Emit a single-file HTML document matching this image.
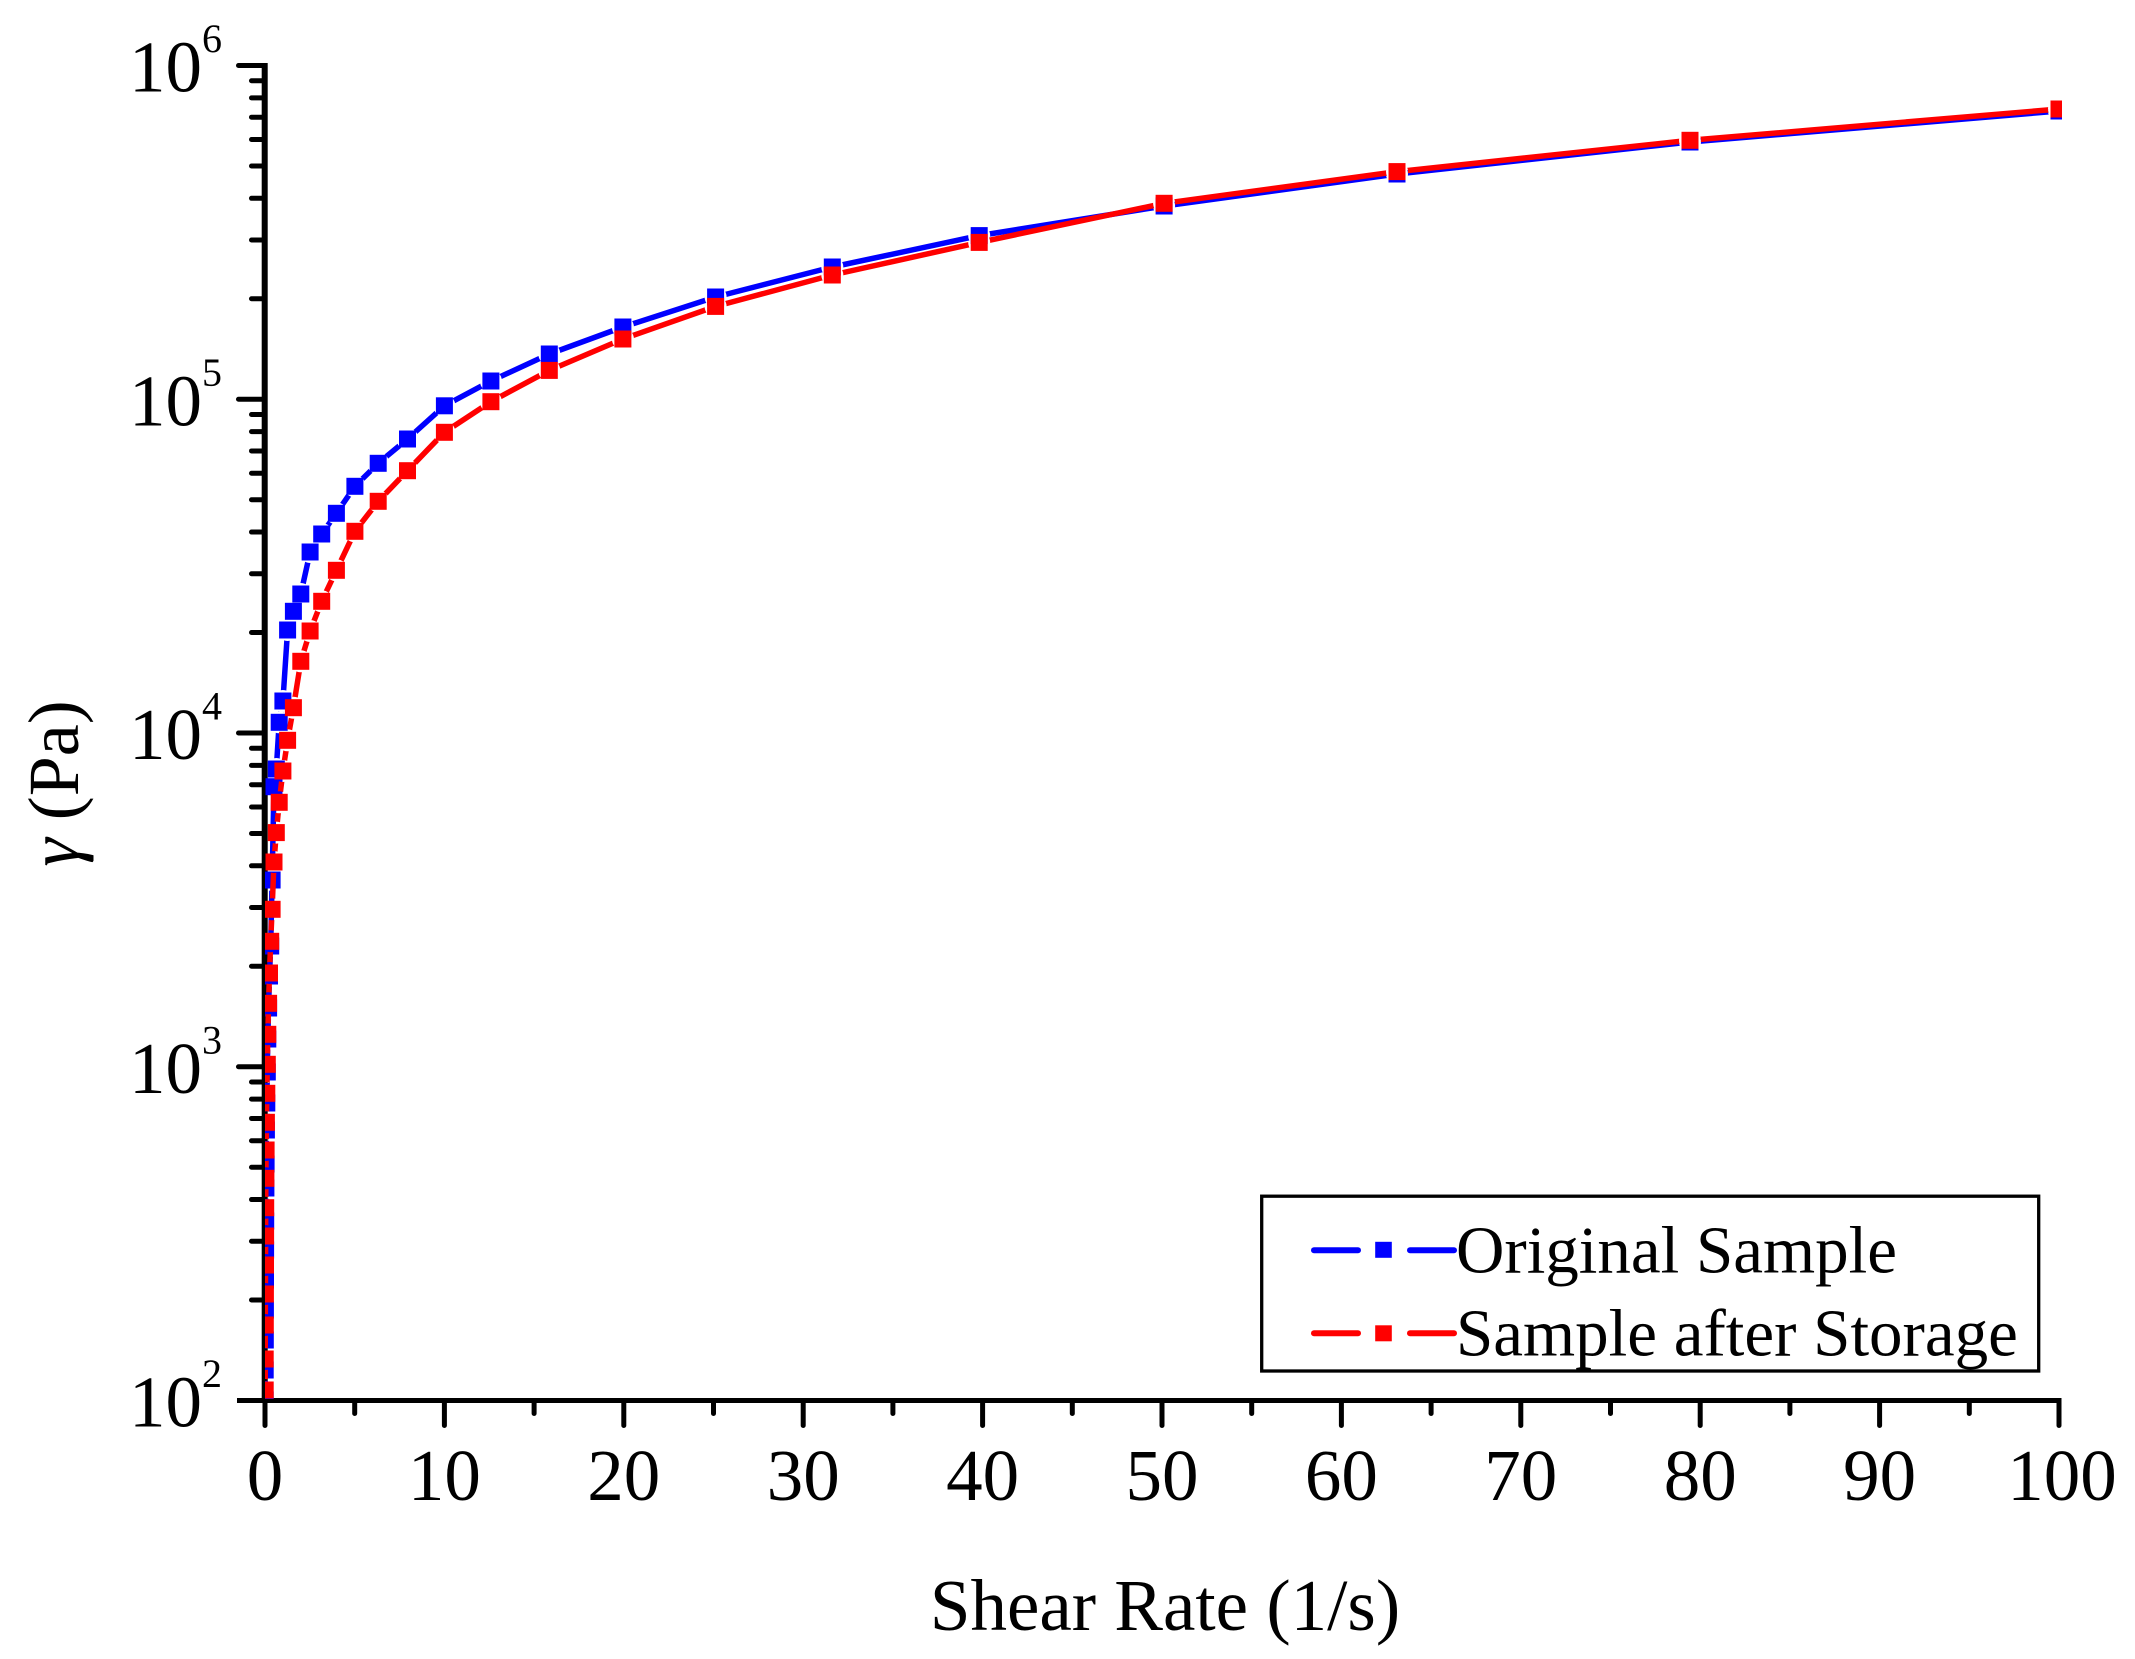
<!DOCTYPE html>
<html><head><meta charset="utf-8"><style>
html,body{margin:0;padding:0;background:#fff;}
svg{display:block;}
text{font-family:"Liberation Serif","Times New Roman",serif;fill:#000;}
</style></head><body>
<svg width="2135" height="1659" viewBox="0 0 2135 1659" xmlns="http://www.w3.org/2000/svg">
<defs>
<clipPath id="plot"><rect x="265" y="62" width="1797" height="1337"/></clipPath>
<mask id="mb" maskUnits="userSpaceOnUse" x="0" y="0" width="2135" height="1659">
<rect x="0" y="0" width="2135" height="1659" fill="#fff"/>
<g fill="#000">
<circle cx="2059" cy="111" r="11"/><circle cx="1690" cy="142" r="11"/><circle cx="1397" cy="174" r="11"/><circle cx="1164.1" cy="206" r="11"/><circle cx="979.2" cy="235.6" r="11"/><circle cx="832.3" cy="267" r="11"/><circle cx="715.6" cy="297" r="11"/><circle cx="622.9" cy="327" r="11"/><circle cx="549.3" cy="354" r="11"/><circle cx="490.9" cy="381" r="11"/><circle cx="444.4" cy="405.8" r="11"/><circle cx="407.5" cy="439" r="11"/><circle cx="378.2" cy="463.3" r="11"/><circle cx="354.9" cy="486.3" r="11"/><circle cx="336.4" cy="513.3" r="11"/><circle cx="321.7" cy="534" r="11"/><circle cx="310.1" cy="552" r="11"/><circle cx="300.8" cy="594" r="11"/><circle cx="293.4" cy="611.3" r="11"/><circle cx="287.6" cy="630" r="11"/><circle cx="282.9" cy="701" r="11"/><circle cx="279.2" cy="722.3" r="11"/><circle cx="276.3" cy="769" r="11"/><circle cx="274" cy="786.7" r="11"/><circle cx="272.1" cy="880" r="11"/><circle cx="270.7" cy="946" r="11"/><circle cx="269.5" cy="976" r="11"/><circle cx="268.6" cy="1008" r="11"/><circle cx="267.8" cy="1039" r="11"/><circle cx="267.3" cy="1072" r="11"/><circle cx="266.8" cy="1103" r="11"/><circle cx="266.4" cy="1130" r="11"/><circle cx="266.1" cy="1164" r="11"/><circle cx="265.9" cy="1188" r="11"/><circle cx="265.7" cy="1221" r="11"/><circle cx="265.6" cy="1250" r="11"/><circle cx="265.5" cy="1280" r="11"/><circle cx="265.4" cy="1310" r="11"/><circle cx="265.3" cy="1340" r="11"/><circle cx="265.2" cy="1370" r="11"/><circle cx="265.2" cy="1400" r="11"/>
</g></mask>
<mask id="mr" maskUnits="userSpaceOnUse" x="0" y="0" width="2135" height="1659">
<rect x="0" y="0" width="2135" height="1659" fill="#fff"/>
<g fill="#000">
<circle cx="2059" cy="109" r="11"/><circle cx="1690" cy="140.3" r="11"/><circle cx="1397" cy="171.6" r="11"/><circle cx="1164.1" cy="203.3" r="11"/><circle cx="979.2" cy="242.4" r="11"/><circle cx="832.3" cy="275" r="11"/><circle cx="715.6" cy="306.4" r="11"/><circle cx="622.9" cy="339" r="11"/><circle cx="549.3" cy="370.4" r="11"/><circle cx="490.9" cy="401.7" r="11"/><circle cx="444.4" cy="432.3" r="11"/><circle cx="407.5" cy="470.7" r="11"/><circle cx="378.2" cy="501.3" r="11"/><circle cx="354.9" cy="531.3" r="11"/><circle cx="336.4" cy="570.3" r="11"/><circle cx="321.7" cy="601.3" r="11"/><circle cx="310.1" cy="631" r="11"/><circle cx="300.8" cy="661.3" r="11"/><circle cx="293.4" cy="707.7" r="11"/><circle cx="287.6" cy="740.3" r="11"/><circle cx="282.9" cy="771" r="11"/><circle cx="279.2" cy="802.3" r="11"/><circle cx="276.3" cy="832.6" r="11"/><circle cx="274" cy="862" r="11"/><circle cx="272.1" cy="909.3" r="11"/><circle cx="270.7" cy="941.3" r="11"/><circle cx="269.5" cy="973" r="11"/><circle cx="268.6" cy="1003.3" r="11"/><circle cx="267.8" cy="1034.3" r="11"/><circle cx="267.3" cy="1064.3" r="11"/><circle cx="266.8" cy="1093.3" r="11"/><circle cx="266.4" cy="1122.3" r="11"/><circle cx="266.1" cy="1150" r="11"/><circle cx="265.9" cy="1178.3" r="11"/><circle cx="265.7" cy="1207.7" r="11"/><circle cx="265.6" cy="1236" r="11"/><circle cx="265.5" cy="1265" r="11"/><circle cx="265.4" cy="1294" r="11"/><circle cx="265.3" cy="1325" r="11"/><circle cx="265.2" cy="1359" r="11"/><circle cx="265.2" cy="1390" r="11"/>
</g></mask>
</defs>

<rect x="0" y="0" width="2135" height="1659" fill="#fff"/>

<!-- Axes -->
<g stroke="#000" fill="none">
<line x1="264.7" y1="63" x2="264.7" y2="1403" stroke-width="6"/>
<line x1="237" y1="1400.5" x2="2061.5" y2="1400.5" stroke-width="5"/>
</g>
<!-- Y major ticks -->
<g stroke="#000" stroke-width="5" stroke-linecap="round">
<line x1="238.5" y1="65.5" x2="264" y2="65.5"/>
<line x1="238.5" y1="399.25" x2="264" y2="399.25"/>
<line x1="238.5" y1="733" x2="264" y2="733"/>
<line x1="238.5" y1="1066.75" x2="264" y2="1066.75"/>
</g>
<!-- Y minor ticks -->
<g stroke="#000" stroke-width="5" stroke-linecap="round">
<line x1="251.5" y1="1300.03" x2="264" y2="1300.03"/><line x1="251.5" y1="1241.26" x2="264" y2="1241.26"/><line x1="251.5" y1="1199.56" x2="264" y2="1199.56"/><line x1="251.5" y1="1167.22" x2="264" y2="1167.22"/><line x1="251.5" y1="1140.79" x2="264" y2="1140.79"/><line x1="251.5" y1="1118.45" x2="264" y2="1118.45"/><line x1="251.5" y1="1099.09" x2="264" y2="1099.09"/><line x1="251.5" y1="1082.02" x2="264" y2="1082.02"/>
<line x1="251.5" y1="966.28" x2="264" y2="966.28"/><line x1="251.5" y1="907.51" x2="264" y2="907.51"/><line x1="251.5" y1="865.81" x2="264" y2="865.81"/><line x1="251.5" y1="833.47" x2="264" y2="833.47"/><line x1="251.5" y1="807.04" x2="264" y2="807.04"/><line x1="251.5" y1="784.70" x2="264" y2="784.70"/><line x1="251.5" y1="765.34" x2="264" y2="765.34"/><line x1="251.5" y1="748.27" x2="264" y2="748.27"/>
<line x1="251.5" y1="632.53" x2="264" y2="632.53"/><line x1="251.5" y1="573.76" x2="264" y2="573.76"/><line x1="251.5" y1="532.06" x2="264" y2="532.06"/><line x1="251.5" y1="499.72" x2="264" y2="499.72"/><line x1="251.5" y1="473.29" x2="264" y2="473.29"/><line x1="251.5" y1="450.95" x2="264" y2="450.95"/><line x1="251.5" y1="431.59" x2="264" y2="431.59"/><line x1="251.5" y1="414.52" x2="264" y2="414.52"/>
<line x1="251.5" y1="298.78" x2="264" y2="298.78"/><line x1="251.5" y1="240.01" x2="264" y2="240.01"/><line x1="251.5" y1="198.31" x2="264" y2="198.31"/><line x1="251.5" y1="165.97" x2="264" y2="165.97"/><line x1="251.5" y1="139.54" x2="264" y2="139.54"/><line x1="251.5" y1="117.20" x2="264" y2="117.20"/><line x1="251.5" y1="97.84" x2="264" y2="97.84"/><line x1="251.5" y1="80.77" x2="264" y2="80.77"/>
</g>
<!-- X major ticks -->
<g stroke="#000" stroke-width="5" stroke-linecap="round">
<line x1="265" y1="1401" x2="265" y2="1425.5"/><line x1="444.4" y1="1401" x2="444.4" y2="1425.5"/><line x1="623.8" y1="1401" x2="623.8" y2="1425.5"/><line x1="803.2" y1="1401" x2="803.2" y2="1425.5"/><line x1="982.6" y1="1401" x2="982.6" y2="1425.5"/><line x1="1162" y1="1401" x2="1162" y2="1425.5"/><line x1="1341.4" y1="1401" x2="1341.4" y2="1425.5"/><line x1="1520.8" y1="1401" x2="1520.8" y2="1425.5"/><line x1="1700.2" y1="1401" x2="1700.2" y2="1425.5"/><line x1="1879.6" y1="1401" x2="1879.6" y2="1425.5"/><line x1="2059" y1="1401" x2="2059" y2="1425.5"/>
</g>
<!-- X minor ticks -->
<g stroke="#000" stroke-width="5" stroke-linecap="round">
<line x1="354.7" y1="1401" x2="354.7" y2="1413.5"/><line x1="534.1" y1="1401" x2="534.1" y2="1413.5"/><line x1="713.5" y1="1401" x2="713.5" y2="1413.5"/><line x1="892.9" y1="1401" x2="892.9" y2="1413.5"/><line x1="1072.3" y1="1401" x2="1072.3" y2="1413.5"/><line x1="1251.7" y1="1401" x2="1251.7" y2="1413.5"/><line x1="1431.1" y1="1401" x2="1431.1" y2="1413.5"/><line x1="1610.5" y1="1401" x2="1610.5" y2="1413.5"/><line x1="1789.9" y1="1401" x2="1789.9" y2="1413.5"/><line x1="1969.3" y1="1401" x2="1969.3" y2="1413.5"/>
</g>

<!-- X tick labels -->
<g font-size="73" text-anchor="middle">
<text x="265" y="1500">0</text><text x="444.4" y="1500">10</text><text x="623.8" y="1500">20</text><text x="803.2" y="1500">30</text><text x="982.6" y="1500">40</text><text x="1162" y="1500">50</text><text x="1341.4" y="1500">60</text><text x="1520.8" y="1500">70</text><text x="1700.2" y="1500">80</text><text x="1879.6" y="1500">90</text><text x="2062" y="1500">100</text>
</g>
<!-- Y tick labels -->
<g>
<text x="202" y="91.7" font-size="73" text-anchor="end">10</text><text x="202" y="52" font-size="40">6</text>
<text x="202" y="425.45" font-size="73" text-anchor="end">10</text><text x="202" y="385.75" font-size="40">5</text>
<text x="202" y="759.2" font-size="73" text-anchor="end">10</text><text x="202" y="719.5" font-size="40">4</text>
<text x="202" y="1092.95" font-size="73" text-anchor="end">10</text><text x="202" y="1053.25" font-size="40">3</text>
<text x="202" y="1426.7" font-size="73" text-anchor="end">10</text><text x="202" y="1387" font-size="40">2</text>
</g>
<!-- Axis titles -->
<text x="1165" y="1630" font-size="73" text-anchor="middle">Shear Rate (1/s)</text>
<text transform="translate(78,783.5) rotate(-90)" font-size="72" text-anchor="middle"><tspan font-style="italic">γ</tspan> (Pa)</text>

<!-- Data -->
<g clip-path="url(#plot)">
<g mask="url(#mb)">
<polyline fill="none" stroke="#0000ff" stroke-width="5.5" stroke-linejoin="round" points="2059,111 1690,142 1397,174 1164.1,206 979.2,235.6 832.3,267 715.6,297 622.9,327 549.3,354 490.9,381 444.4,405.8 407.5,439 378.2,463.3 354.9,486.3 336.4,513.3 321.7,534 310.1,552 300.8,594 293.4,611.3 287.6,630 282.9,701 279.2,722.3 276.3,769 274,786.7 272.1,880 270.7,946 269.5,976 268.6,1008 267.8,1039 267.3,1072 266.8,1103 266.4,1130 266.1,1164 265.9,1188 265.7,1221 265.6,1250 265.5,1280 265.4,1310 265.3,1340 265.2,1370 265.2,1400"/>
</g>
<g fill="#0000ff">
<rect x="2050.5" y="102.5" width="17" height="17"/><rect x="1681.5" y="133.5" width="17" height="17"/><rect x="1388.5" y="165.5" width="17" height="17"/><rect x="1155.6" y="197.5" width="17" height="17"/><rect x="970.7" y="227.1" width="17" height="17"/><rect x="823.8" y="258.5" width="17" height="17"/><rect x="707.1" y="288.5" width="17" height="17"/><rect x="614.4" y="318.5" width="17" height="17"/><rect x="540.8" y="345.5" width="17" height="17"/><rect x="482.4" y="372.5" width="17" height="17"/><rect x="435.9" y="397.3" width="17" height="17"/><rect x="399" y="430.5" width="17" height="17"/><rect x="369.7" y="454.8" width="17" height="17"/><rect x="346.4" y="477.8" width="17" height="17"/><rect x="327.9" y="504.8" width="17" height="17"/><rect x="313.2" y="525.5" width="17" height="17"/><rect x="301.6" y="543.5" width="17" height="17"/><rect x="292.3" y="585.5" width="17" height="17"/><rect x="284.9" y="602.8" width="17" height="17"/><rect x="279.1" y="621.5" width="17" height="17"/><rect x="274.4" y="692.5" width="17" height="17"/><rect x="270.7" y="713.8" width="17" height="17"/><rect x="267.8" y="760.5" width="17" height="17"/><rect x="265.5" y="778.2" width="17" height="17"/><rect x="263.6" y="871.5" width="17" height="17"/><rect x="262.2" y="937.5" width="17" height="17"/><rect x="261" y="967.5" width="17" height="17"/><rect x="260.1" y="999.5" width="17" height="17"/><rect x="259.3" y="1030.5" width="17" height="17"/><rect x="258.8" y="1063.5" width="17" height="17"/><rect x="258.3" y="1094.5" width="17" height="17"/><rect x="257.9" y="1121.5" width="17" height="17"/><rect x="257.6" y="1155.5" width="17" height="17"/><rect x="257.4" y="1179.5" width="17" height="17"/><rect x="257.2" y="1212.5" width="17" height="17"/><rect x="257.1" y="1241.5" width="17" height="17"/><rect x="257" y="1271.5" width="17" height="17"/><rect x="256.9" y="1301.5" width="17" height="17"/><rect x="256.8" y="1331.5" width="17" height="17"/><rect x="256.7" y="1361.5" width="17" height="17"/><rect x="256.7" y="1391.5" width="17" height="17"/>
</g>
<g mask="url(#mr)">
<polyline fill="none" stroke="#ff0000" stroke-width="5.5" stroke-linejoin="round" points="2059,109 1690,140.3 1397,171.6 1164.1,203.3 979.2,242.4 832.3,275 715.6,306.4 622.9,339 549.3,370.4 490.9,401.7 444.4,432.3 407.5,470.7 378.2,501.3 354.9,531.3 336.4,570.3 321.7,601.3 310.1,631 300.8,661.3 293.4,707.7 287.6,740.3 282.9,771 279.2,802.3 276.3,832.6 274,862 272.1,909.3 270.7,941.3 269.5,973 268.6,1003.3 267.8,1034.3 267.3,1064.3 266.8,1093.3 266.4,1122.3 266.1,1150 265.9,1178.3 265.7,1207.7 265.6,1236 265.5,1265 265.4,1294 265.3,1325 265.2,1359 265.2,1390"/>
</g>
<g fill="#ff0000">
<rect x="2050.5" y="100.5" width="17" height="17"/><rect x="1681.5" y="131.8" width="17" height="17"/><rect x="1388.5" y="163.1" width="17" height="17"/><rect x="1155.6" y="194.8" width="17" height="17"/><rect x="970.7" y="233.9" width="17" height="17"/><rect x="823.8" y="266.5" width="17" height="17"/><rect x="707.1" y="297.9" width="17" height="17"/><rect x="614.4" y="330.5" width="17" height="17"/><rect x="540.8" y="361.9" width="17" height="17"/><rect x="482.4" y="393.2" width="17" height="17"/><rect x="435.9" y="423.8" width="17" height="17"/><rect x="399" y="462.2" width="17" height="17"/><rect x="369.7" y="492.8" width="17" height="17"/><rect x="346.4" y="522.8" width="17" height="17"/><rect x="327.9" y="561.8" width="17" height="17"/><rect x="313.2" y="592.8" width="17" height="17"/><rect x="301.6" y="622.5" width="17" height="17"/><rect x="292.3" y="652.8" width="17" height="17"/><rect x="284.9" y="699.2" width="17" height="17"/><rect x="279.1" y="731.8" width="17" height="17"/><rect x="274.4" y="762.5" width="17" height="17"/><rect x="270.7" y="793.8" width="17" height="17"/><rect x="267.8" y="824.1" width="17" height="17"/><rect x="265.5" y="853.5" width="17" height="17"/><rect x="263.6" y="900.8" width="17" height="17"/><rect x="262.2" y="932.8" width="17" height="17"/><rect x="261" y="964.5" width="17" height="17"/><rect x="260.1" y="994.8" width="17" height="17"/><rect x="259.3" y="1025.8" width="17" height="17"/><rect x="258.8" y="1055.8" width="17" height="17"/><rect x="258.3" y="1084.8" width="17" height="17"/><rect x="257.9" y="1113.8" width="17" height="17"/><rect x="257.6" y="1141.5" width="17" height="17"/><rect x="257.4" y="1169.8" width="17" height="17"/><rect x="257.2" y="1199.2" width="17" height="17"/><rect x="257.1" y="1227.5" width="17" height="17"/><rect x="257" y="1256.5" width="17" height="17"/><rect x="256.9" y="1285.5" width="17" height="17"/><rect x="256.8" y="1316.5" width="17" height="17"/><rect x="256.7" y="1350.5" width="17" height="17"/><rect x="256.7" y="1381.5" width="17" height="17"/>
</g>
</g>

<!-- Legend -->
<rect x="1261.7" y="1196.2" width="777" height="174.8" fill="#fff" stroke="#000" stroke-width="3.3"/>
<g stroke-width="6" stroke-linecap="round">
<line x1="1314" y1="1250.3" x2="1358" y2="1250.3" stroke="#0000ff"/>
<line x1="1410" y1="1250.3" x2="1454" y2="1250.3" stroke="#0000ff"/>
<line x1="1314" y1="1333.3" x2="1358" y2="1333.3" stroke="#ff0000"/>
<line x1="1410" y1="1333.3" x2="1454" y2="1333.3" stroke="#ff0000"/>
</g>
<rect x="1375.2" y="1241.8" width="16.6" height="16" fill="#0000ff"/>
<rect x="1375.2" y="1325.3" width="16.6" height="16" fill="#ff0000"/>
<text x="1456" y="1272.7" font-size="67">Original Sample</text>
<text x="1456" y="1355.7" font-size="67">Sample after Storage</text>
</svg>
</body></html>
